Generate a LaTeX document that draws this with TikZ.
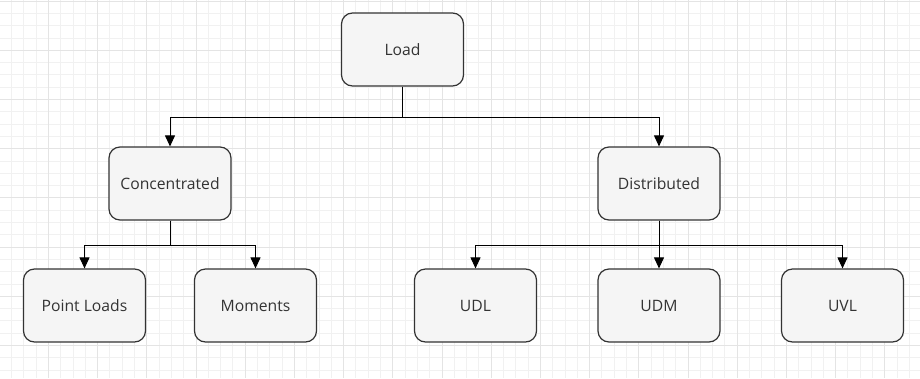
\documentclass[tikz,border=0pt]{standalone}
\usepackage{fontspec}
\setmainfont{Open Sans}
\usepackage{tikz}
\usetikzlibrary{arrows.meta}

\definecolor{boxfill}{HTML}{F5F5F5}
\definecolor{boxline}{HTML}{333333}
\definecolor{gridminor}{HTML}{F1F1F1}
\definecolor{gridmajor}{HTML}{E4E4E4}

\tikzset{
  box/.style={draw=boxline, fill=boxfill, line width=1.2pt, rounded corners=11pt,
    minimum width=122pt, minimum height=73pt, text=boxline, font=\fontsize{15.7pt}{18pt}\selectfont},
  link/.style={line width=1pt, -{Triangle[length=11pt,width=10pt]}}
}

\begin{document}
\begin{tikzpicture}[x=1pt, y=-1pt]
			\useasboundingbox (0,0) rectangle (920,378);
			% grid
			\foreach \i in {0,...,75} {
				\draw[gridminor, line width=0.8pt] ({-0.9+12.3*\i},0) -- ({-0.9+12.3*\i},378);
			}
			\foreach \i in {0,...,31} {
				\draw[gridminor, line width=0.8pt] (0,{1+12.3*\i}) -- (920,{1+12.3*\i});
			}
			\foreach \i in {0,...,18} {
				\draw[gridmajor, line width=0.8pt] ({-0.9+49.2*\i},0) -- ({-0.9+49.2*\i},378);
			}
			\foreach \i in {0,...,7} {
				\draw[gridmajor, line width=0.8pt] (0,{1+49.2*\i}) -- (920,{1+49.2*\i});
			}
			% boxes
			\node[box] (load) at (402.5,49.5) {Load};
			\node[box] (conc) at (170,183.5) {Concentrated};
			\node[box] (dist) at (659,183.5) {Distributed};
			\node[box] (point) at (84.5,305.5) {Point Loads};
			\node[box] (mom) at (255.5,305.5) {Moments};
			\node[box] (udl) at (475.5,305.5) {UDL};
			\node[box] (udm) at (659,305.5) {UDM};
			\node[box] (uvl) at (842.5,305.5) {UVL};
			% connectors
			\draw[link] (load.south) |- (170,117) -- (conc.north);
			\draw[link] (load.south) |- (659,117) -- (dist.north);
			\draw[link] (conc.south) |- (84.5,245) -- (point.north);
			\draw[link] (conc.south) |- (255.5,245) -- (mom.north);
			\draw[link] (dist.south) |- (475.5,245) -- (udl.north);
			\draw[link] (dist.south) -- (udm.north);
			\draw[link] (dist.south) |- (842.5,245) -- (uvl.north);
		\end{tikzpicture}
\end{document}
